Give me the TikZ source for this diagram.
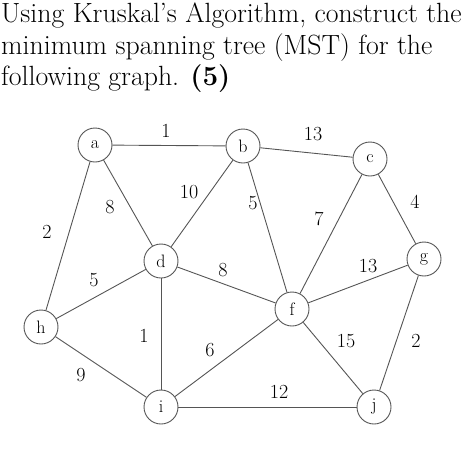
\documentclass[tikz,border=0pt]{standalone}
\usepackage{amsmath,amssymb}
\usepackage{xcolor}
\usepackage{tikz}
\usetikzlibrary{positioning,calc}
\definecolor{edgecolor}{RGB}{85,85,85}

\begin{document}
\begin{tikzpicture}[
    x=1pt, y=-1pt,
    vertex/.style={circle, draw=edgecolor, line width=0.9pt, minimum size=34pt, inner sep=0pt, font=\fontsize{18}{18}\selectfont},
    wlabel/.style={inner sep=0pt, font=\fontsize{20}{20}\selectfont},
    edge/.style={draw=edgecolor, line width=0.9pt}
]
\useasboundingbox (0,0) rectangle (474,453);

\node[anchor=north west, inner sep=0pt, align=left, font=\fontsize{27.8}{31.5}\selectfont] (title) at (1,3)
    {Using Kruskal's Algorithm, construct the\\minimum spanning tree (MST) for the\\following graph. \textbf{(5)}};

\node[vertex] (a) at (95,145) {a};
\node[vertex] (b) at (243,146) {b};
\node[vertex] (c) at (370,159) {c};
\node[vertex] (d) at (161,261) {d};
\node[vertex] (g) at (424,259) {g};
\node[vertex] (f) at (292,309) {f};
\node[vertex] (h) at (41,327) {h};
\node[vertex] (i) at (161,407) {i};
\node[vertex] (j) at (374,407) {j};

\draw[edge] (a) -- (b);
\draw[edge] (b) -- (c);
\draw[edge] (a) -- (d);
\draw[edge] (a) -- (h);
\draw[edge] (b) -- (d);
\draw[edge] (b) -- (f);
\draw[edge] (c) -- (f);
\draw[edge] (c) -- (g);
\draw[edge] (d) -- (h);
\draw[edge] (d) -- (f);
\draw[edge] (d) -- (i);
\draw[edge] (f) -- (g);
\draw[edge] (f) -- (i);
\draw[edge] (f) -- (j);
\draw[edge] (g) -- (j);
\draw[edge] (h) -- (i);
\draw[edge] (i) -- (j);

% weights
\node[wlabel] (wab) at (166,131) {1};
\node[wlabel] (wbc) at (313,134) {13};
\node[wlabel] (wbd) at (189,192) {10};
\node[wlabel] (wad) at (110,207) {8};
\node[wlabel] (wah) at (47,232) {2};
\node[wlabel] (wbf) at (253,203) {5};
\node[wlabel] (wcf) at (319,219) {7};
\node[wlabel] (wcg) at (415,202) {4};
\node[wlabel] (wdh) at (94,280) {5};
\node[wlabel] (wdf) at (223,270) {8};
\node[wlabel] (wfg) at (368,266) {13};
\node[wlabel] (wdi) at (144,336) {1};
\node[wlabel] (wif) at (210,350) {6};
\node[wlabel] (wfj) at (346,341) {15};
\node[wlabel] (wgj) at (416,341) {2};
\node[wlabel] (whi) at (81,375) {9};
\node[wlabel] (wij) at (279,392) {12};

\end{tikzpicture}
\end{document}
